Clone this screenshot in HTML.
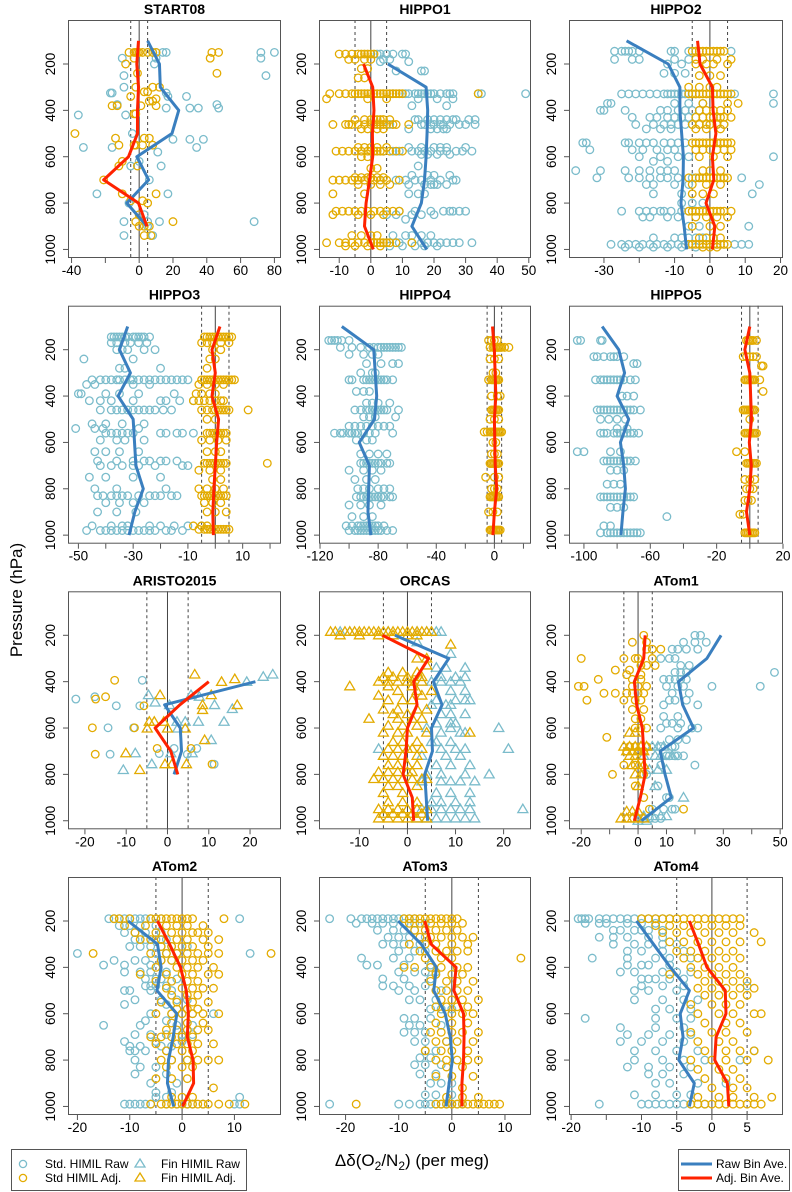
<!DOCTYPE html>
<html><head><meta charset="utf-8"><style>
html,body{margin:0;padding:0;background:#fff;}
svg{display:block;font-family:"Liberation Sans",sans-serif;}
</style></head><body>
<svg id="chart" width="792" height="1192" viewBox="0 0 792 1192" xmlns="http://www.w3.org/2000/svg">
<text x="0" y="0" transform="translate(22,600) rotate(-90)" text-anchor="middle" font-size="17">Pressure (hPa)</text>
<text x="412" y="1166" text-anchor="middle" font-size="17">Δδ(O<tspan font-size="12" dy="4">2</tspan><tspan dy="-4">/N</tspan><tspan font-size="12" dy="4">2</tspan><tspan dy="-4">) (per meg)</tspan></text>
<g>
<rect x="11.5" y="1149.5" width="235" height="41" fill="#fff" stroke="#555"/>
<circle cx="23" cy="1164" r="3.6" fill="none" stroke="#7bbccb" stroke-width="1.3"/>
<text x="45" y="1168" font-size="12">Std. HIMIL Raw</text>
<circle cx="23" cy="1178" r="3.6" fill="none" stroke="#e3ab00" stroke-width="1.3"/>
<text x="45" y="1182" font-size="12">Std HIMIL Adj.</text>
<polygon points="140,1159 145,1167 135,1167" fill="none" stroke="#7bbccb" stroke-width="1.3"/>
<text x="161" y="1168" font-size="12">Fin HIMIL Raw</text>
<polygon points="140,1173 145,1181 135,1181" fill="none" stroke="#e3ab00" stroke-width="1.3"/>
<text x="161" y="1182" font-size="12">Fin HIMIL Adj.</text>
</g>
<g>
<rect x="678.5" y="1149.5" width="111" height="41" fill="#fff" stroke="#555"/>
<line x1="681" y1="1164" x2="712" y2="1164" stroke="#3a7fbf" stroke-width="3"/>
<text x="716" y="1168" font-size="12">Raw Bin Ave.</text>
<line x1="681" y1="1178" x2="712" y2="1178" stroke="#ff2200" stroke-width="3"/>
<text x="716" y="1182" font-size="12">Adj. Bin Ave.</text>
</g>
</svg>
<script>
// ---------- data ----------
const BINS = [100,200,300,400,500,600,700,800,900,1000];
const BINS_R2 = [200,300,400,500,600,700,800,900,1000];
const BINS_AR = [400,500,600,700,800];

const START08_RAW = [[150,[5,8,10,14,16,72,80]],[175,[-10,10,72]],[200,[9]],[250,[-9,75]],[300,[-9]],[325,[-17,-16,16]],[340,[28,17]],[375,[-13,46]],[390,[30,35,16,47]],[420,[-36,-8]],[500,[-4]],[525,[20,30,38]],[560,[-16,-33,34]],[580,[11]],[620,[0]],[640,[13,-5]],[700,[6]],[760,[-25,17]],[800,[-6]],[850,[3]],[880,[-9,5,12,68]],[900,[5]],[940,[-9,8]]];
const START08_ADJ = [[150,[-6,-3,-2,-1,0,2,5,8,10,43,47]],[175,[42,-3]],[200,[-8]],[240,[-1,46]],[300,[-2,8,12]],[320,[3,5]],[340,[-5]],[350,[10]],[360,[6,8]],[380,[-16,-13,1,10]],[415,[-3,-2]],[500,[-38]],[520,[-14,3,6]],[550,[-12,-3,-2,2,8]],[620,[-10]],[640,[-12,-1]],[700,[-21]],[760,[-10,10]],[790,[-5,2]],[800,[5]],[850,[0]],[880,[-2,20]],[900,[0,3,6]],[940,[3,7]]];
const START08_BINS = [100,200,300,400,500,600,700,800,900];
const START08_RAWAVE = [5,12,12.5,23.4,19.4,-1.4,5.6,-7.3,4.6];
const START08_ADJAVE = [-0.4,-1.4,-0.4,-1,-1,-6.3,-21,-0.4,4.6];

const HIPPO1_RAW = [[157,[2,3,5,7,10,11]],[180,[4,6]],[190,[3,12]],[230,[8,16,17]],[328,[7,9,11,12,14,15,16,17,18,19,20,22,24,25,26,34,35,49]],[350,[15,21,26]],[380,[13,24]],[440,[14,15,18,20,22,24,26,27,31,33]],[461,[6,16,17,19,20,22,23,25,28,30,33]],[480,[12,19,21,23,24]],[560,[12,16,20,22,24,30]],[576,[4,7,9,13,15,17,19,22,24,27,29,32]],[590,[16,18,21,25]],[640,[15]],[680,[13,18,20,25]],[701,[3,8,11,14,16,19,22,26,27]],[720,[12,17,19,20,21,24]],[760,[12,15,17]],[835,[9,14,19,23,25,26,28,30]],[850,[5,8,13,16,20]],[870,[11]],[940,[7,11,13,16,19]],[971,[5,9,13,16,18,20,22,24,26,28,32]],[985,[6,10,14,17,21]]];
const HIPPO1_ADJ = [[157,[-10,-8,-6,-4,-3,-2,-1,0,1]],[180,[-7,-5,-2,0]],[220,[-3,-1]],[260,[-2,-4]],[328,[-13,-10,-8,-6,-5,-4,-3,-2,-1,0,1,2,3,4,5,6,7,8,9,10,34]],[350,[-14,-1,5]],[440,[-5,-2,0,1,2,3,4,6]],[461,[-12,-8,-7,-6,-4,-2,0,1,2,3,4,5,7,8,12]],[480,[-3,-1,2,4]],[560,[-4,-2,0,2,5]],[576,[-11,-9,-7,-5,-3,-1,0,1,2,3,4,6,8,10]],[600,[-3,-1]],[650,[0,2]],[690,[-5,-3,-1,0,2,4]],[701,[-12,-10,-8,-6,-4,-2,1,3,5,9]],[720,[-4,0,3,6]],[760,[-12,-2]],[835,[-11,-9,-7,-5,-3,-1,1,3,5,7,9]],[850,[-12,-4,0,4]],[940,[-6,-3,0,2]],[971,[-14,-10,-8,-6,-4,-2,0,1,2,3,4,5,6,8,13]],[985,[-8,-5,-1,3]]];
const HIPPO1_RAWAVE = [5.4,17.5,18,17.8,17.5,17,16,13,17.7];
const HIPPO1_ADJAVE = [-2.3,0.6,1,0.5,0.6,-0.4,-1.5,-2,0.8];

const HIPPO2_RAW = [[145,[-27,-25,-24,-23,-22,-20,-11,-10,-6,-4,6]],[180,[-27,-22,-20,-10,-6]],[200,[-12,-8]],[240,[-13,-10,-7]],[329,[-25,-23,-21,-19,-17,-15,-13,-12,-11,-10,-9,-8,-7,-6,-5,-4,7,18]],[370,[-29,-28,-10,-6,-2,18]],[400,[-31,-30,-24,-14,-12,-9,-7,-5,-3]],[430,[-22,-17,-15,-12,-10,-8,-6]],[461,[-21,-16,-13,-11,-9,-7,-5,-3,0,2,4]],[480,[-18,-14,-11]],[540,[-36,-35,-24,-23,-20,-18,-16,-13,-11,-9,-7]],[570,[-34,-22,-19,-15,-12,-10]],[600,[-20,-14,-9,-6,18]],[620,[-16,-12]],[660,[-38,-31,-24,-20,-17,-14,-12,-10]],[691,[-32,-23,-20,-17,-14,-12,-9,-5,-3,4,9]],[720,[-18,-16,-10,-6,14]],[760,[-16,-8,12]],[800,[-8,-5,-2]],[835,[-25,-20,-18,-16,-14,-13,-11,-8,-6,-4]],[860,[-19,-17,-12,-9]],[900,[-6,-3,11]],[950,[-16,-10,-8,-6,-4,-2,1]],[978,[-28,-25,-23,-21,-19,-17,-15,-13,-11,-9,-7,-5,-3,-1,2,4,7,9,11]],[990,[-24,-20,-16,-12,-8,-4]]];
const HIPPO2_ADJ = [[145,[-5,-4,-3,-2,-1,0,1,2,3,4]],[180,[-4,-2,2,6]],[200,[-4,-1,1,5]],[250,[-3,0,3]],[300,[-6,-3,0,2]],[329,[-6,-5,-4,-3,-2,-1,0,1,2,3,4,5,6]],[370,[-2,5,8]],[400,[-3,-1,1,3,5]],[430,[-4,-2,0,1,2,3,4,6]],[461,[-5,-3,-1,0,2,4]],[480,[-4,-1,3]],[540,[-5,-4,-3,-2,-1,0,1,2,3,4,5,6]],[570,[-4,-2,0,2,4,6]],[600,[-3,1,5]],[660,[-2,0,3]],[691,[-6,-4,-3,-2,-1,0,1,2,3,4,5]],[720,[-5,-1,3]],[760,[-5,-2,1]],[835,[-6,-5,-4,-3,-2,-1,0,1,2,3,4,6]],[860,[-4,-1,2,5]],[900,[-5,0,3]],[950,[-3,-1,1,3]],[978,[-6,-5,-4,-3,-2,-1,0,1,2,3,4,5]],[990,[-2,0,2]]];
const HIPPO2_RAWAVE = [-23.6,-11.8,-8.5,-8.5,-8,-7.5,-7.6,-8.2,-7.3,-6.6];
const HIPPO2_ADJAVE = [-3.5,-2.8,0.7,0.9,1.7,0.7,1.1,-1.1,1.4,0.7];

const HIPPO3_RAW = [[145,[-38,-37,-36,-35,-34,-33,-32,-30,-29,-28,-27,-26,-24]],[170,[-38,-36,-33,-31,-28,-25]],[200,[-36,-34,-32,-26,-22]],[240,[-48,-30]],[280,[-35,-33,-20]],[330,[-45,-42,-40,-38,-36,-35,-33,-31,-30,-28,-26,-24,-22,-20,-18,-16,-14,-12,-10]],[350,[-47,-44,-30,-24]],[390,[-50,-49,-40,-35,-28,-15]],[420,[-46,-42,-38,-30,-20,-18,-13,-8]],[460,[-42,-38,-36,-34,-32,-30,-28,-26,-24,-22,-19,-16]],[520,[-45,-40,-34,-26]],[540,[-51,-44,-41,-28]],[560,[-40,-38,-36,-34,-32,-30,-20,-18,-14,-12,-8]],[590,[-42,-36,-33,-26]],[640,[-44,-40,-35,-28]],[680,[-43,-36,-30,-26,-24,-20,-18,-14]],[700,[-42,-38,-34,-30,-28,-22,-12,-10]],[750,[-46,-40,-30,-20]],[800,[-44,-36,-18]],[830,[-43,-41,-38,-36,-34,-32,-28,-24,-22,-20,-16,-14]],[860,[-40,-35,-30,-26]],[900,[-43,-36,-29]],[960,[-45,-38,-34,-32,-24,-20,-15,-10,-5]],[980,[-47,-42,-40,-38,-36,-34,-32,-30,-28,-26,-24,-22,-18,-16,-12]]];
const HIPPO3_ADJ = [[145,[-4,-3,-2,-1,0,1,2,3,4,5,6]],[170,[-5,-3,-1,2,5]],[200,[-1,2]],[240,[-2,0]],[280,[-3]],[330,[-5,-4,-3,-2,-1,0,1,2,3,4,5,6,7]],[350,[-6,-3,0,3]],[390,[-7,-5,-2,0]],[420,[-8,-6,-4,-2,0,2,3]],[460,[-5,-3,-1,0,1,2,3,4,5,12]],[500,[-3,0]],[560,[-3,-2,-1,0,1,2,3,4]],[590,[-5,-2,1,4]],[640,[-3,0,2]],[690,[-4,-3,-2,-1,0,1,2,3,4,19]],[720,[-6,-2,2]],[760,[-1,2]],[800,[-6,-3,0,3]],[830,[-5,-4,-3,-2,-1,0,1,2,3,4]],[860,[-4,-1,2]],[900,[-3,0,4]],[960,[-8,-5,-3]],[975,[-6,-4,-3,-2,-1,0,1,2,3,4,5]]];
const HIPPO3_RAWAVE = [-32,-35,-31,-35.5,-30,-29.5,-29,-26.3,-29.4,-31.5];
const HIPPO3_ADJAVE = [1.7,-1.2,0,-1.2,1.2,0.5,0,-0.5,-0.9,-0.7];

const HIPPO4_RAW = [[160,[-114,-112,-110,-108,-105,-100]],[190,[-106,-98,-92,-86,-83,-80,-78,-76,-74,-72,-70,-68,-66,-64]],[220,[-100,-90,-84,-80]],[260,[-88,-78,-70,-66]],[300,[-92,-84,-82]],[330,[-100,-98,-90,-88,-86,-84,-82,-80,-78,-76,-74,-70]],[380,[-95,-90,-86]],[430,[-88,-84,-80,-72]],[460,[-96,-92,-88,-86,-84,-82,-80,-78,-76,-74,-66]],[490,[-90,-86,-82,-68]],[530,[-100,-96,-92,-88,-84,-80,-76,-72]],[560,[-110,-106,-104,-100,-98,-96,-94,-90,-86,-82,-70]],[590,[-95,-88,-84]],[650,[-92,-86,-80,-74]],[690,[-92,-90,-88,-86,-84,-82,-80,-78,-74,-72]],[720,[-100,-90,-84,-78]],[760,[-96,-88,-82]],[800,[-94,-90,-86,-80,-76,-72]],[835,[-95,-92,-90,-88,-86,-84,-82,-80,-78,-76,-72,-70]],[870,[-100,-92,-86,-78]],[920,[-98,-90,-84]],[960,[-102,-98,-94,-92,-90,-88,-86,-84,-82,-80,-76]],[980,[-100,-96,-94,-92,-90,-88,-86,-84,-82,-80,-78,-74,-70]]];
const HIPPO4_ADJ = [[160,[-4,-2,0,2]],[190,[-3,-1,0,1,2,3,4,5,7,10]],[240,[-3,0,3]],[300,[-1,1]],[330,[-4,-2,-1,0,1,2,3]],[400,[-2,2,4]],[460,[-2,-1,0,1,2,3]],[500,[-3,0,3]],[555,[-7,-5,-3,-2,-1,0,1,2,3,4,5]],[600,[-1,1]],[650,[-2,0,2]],[691,[-3,-2,-1,0,1,2,3]],[750,[-6,0,3]],[800,[-2,0,2]],[835,[-3,-2,-1,0,1,2,3]],[900,[-4,-1,2]],[978,[-3,-2,-1,0,1,2,3,4]]];
const HIPPO4_RAWAVE = [-105,-83,-82,-81,-82.5,-93,-86,-86.5,-87,-85];
const HIPPO4_ADJAVE = [-1.3,0,0.5,1,0,0.3,0.6,1.6,0,-1];

const HIPPO5_RAW = [[160,[-104,-102,-90,-89]],[230,[-94,-92,-88,-84,-82,-80,-76]],[260,[-70,-68]],[330,[-93,-90,-88,-86,-84,-82,-80,-78,-76,-72,-69]],[400,[-77,-74,-70]],[460,[-92,-90,-88,-86,-84,-82,-80,-78,-76,-74,-72,-70,-66]],[500,[-90,-85,-80,-75]],[540,[-80,-74]],[560,[-90,-88,-86,-82,-80,-78,-76,-74,-72,-70,-67]],[640,[-104,-100,-84,-78]],[680,[-88,-86,-84,-82,-80,-78,-76,-74,-72,-69]],[720,[-84,-80,-76]],[780,[-86,-82,-78]],[835,[-90,-88,-86,-84,-82,-80,-78,-76,-74,-72,-70]],[880,[-84,-80,-76]],[920,[-50]],[960,[-88,-84]],[990,[-90,-86,-84,-82,-80,-78,-76,-74,-72,-70,-68,-66]]];
const HIPPO5_ADJ = [[160,[-2,-1,0,1,2,4]],[230,[-4,-2,0,2,4]],[270,[8,7]],[330,[-3,-2,-1,0,1,2,3,6]],[380,[8]],[460,[-4,-3,-2,-1,0,1,2,3]],[500,[0]],[560,[-3,-2,-1,0,1,2,3,4]],[640,[-8,-3]],[690,[-2,-1,0,1,2,3,4]],[760,[-3,0,3]],[800,[-2,0,2]],[850,[-3,-1,1]],[910,[-6,-4]],[990,[-3,-2,-1,0,1,2,3]]];
const HIPPO5_RAWAVE = [-89,-79,-75.5,-80,-73,-78,-76,-75,-76.5,-77.7];
const HIPPO5_ADJAVE = [0,-3,0,0.5,1,-0.3,0.9,0,-2,0];

const ARISTO_RAW = [[475,[-22.2]],[465,[-17.6]],[504,[-12.4,-6.7]],[394,[-6.1]],[599,[-14.4,-8.2]],[713,[-13.9,4.8]],[688,[1.6,7.1]],[756,[11.3]],[710,[-2]]];
const ARISTO_ADJ = [[394,[-12.8]],[475,[-17.4]],[465,[-15]],[504,[-5.7]],[599,[-18.2,-8]],[713,[-17.5]],[688,[-2.5,5.7]],[756,[10.8]]];
const ARISTO_FINRAW = [[458,[-4.6,5.7]],[490,[-3]],[501,[0.5,11.4]],[465,[7.7]],[518,[15.7]],[379,[23.2]],[369,[25.5]],[401,[19.2]],[573,[2.3,4.3,7.5,13.7]],[602,[2.5]],[652,[10.6]],[709,[-7.8,6,0.8]],[756,[-3.8]],[781,[-10.7]]];
const ARISTO_FINADJ = [[458,[-1.8,10.6]],[573,[-4.4,-3.2,-0.9]],[602,[-4.9,0,4.3]],[369,[6.6]],[401,[13.1]],[389,[16.3]],[501,[8.5,16.9]],[522,[8.5]],[652,[9]],[709,[-10.1]],[781,[-6.7]],[756,[-0.6,1.1,4.6]]];
const ARISTO_RAWAVE = [21.3,-0.7,3.1,3.4,1.6];
const ARISTO_ADJAVE = [10,3,-3,0.8,2.5];

const ORCAS_FINADJ = [[185,[-16,-15,-13,-12,-11,-10,-9,-8,-7,-6,-5,-4,-3,-2,-1,0,1,2,3,4,5]],[200,[-14,-10,-6,-3,0,2]],[240,[9]],[300,[2,4]],[330,[4]],[360,[-4,-1,2]],[380,[-5,-3,0,3]],[400,[-6,-4,-2,0,1,3]],[420,[-12,-4,1]],[440,[-2,2,5]],[460,[-6,3]],[480,[-4,-1,1]],[520,[-5,-2,2,4]],[540,[-3,0]],[560,[-8,-2,1,3]],[590,[-4,-1,2]],[620,[-5,-2,0,4,13]],[660,[-3,-1,2]],[690,[-4,-2,0,1,3]],[720,[-5,-3,-1,2]],[760,[-4,-2,0,2]],[790,[-6,-4,-2,0,1]],[820,[-7,-5,-3,-1,1,3,4]],[850,[-4,-2,2]],[880,[-5,-1]],[920,[-4,-1,2]],[950,[-6,-4,-2,0,2,4]],[970,[-5,-3,-1,1,3]],[990,[-6,-4,-2,0,2,4]]];
const ORCAS_FINRAW = [[185,[-14,-12,-4,2,4,5,6,7]],[230,[2]],[280,[9]],[340,[6,8,12]],[380,[7,10,12]],[400,[3,5,7,9,11]],[440,[9,12]],[480,[6,10,12,13]],[500,[5,8,9]],[540,[7,9,12]],[580,[6,9,10]],[600,[4,9,19]],[620,[7,11,12]],[660,[5,6,9]],[690,[-6,7,10,12,21]],[720,[3,8,11]],[760,[6,9,13]],[800,[4,7,12,17]],[830,[3,7,9,11,14]],[880,[6,9,13]],[920,[5,7,10,13]],[950,[3,5,7,9,11,13,24]],[990,[2,4,6,8,10,12,14]]];
const ORCAS_RAWAVE = [-2.6,8.6,5.4,7.2,5,5.2,3.6,3.9,4.2];
const ORCAS_ADJAVE = [-5.2,4.4,1.3,2,0,-0.3,-0.9,1,1.3];

const ATOM1_RAW = [[200,[20,22]],[230,[16,20,24]],[260,[12,14,17,21]],[300,[8,11,13]],[330,[15,18]],[360,[13,15,17,48]],[390,[9,11,13,15,17]],[420,[10,14,16,26,43]],[450,[12,18]],[480,[11,13,17]],[500,[9,21]],[550,[9,14]],[580,[10,12,15]],[600,[8,14,19,21]],[650,[11,14,17]],[680,[8,12,13]],[720,[10,11,13,14,16]],[760,[20,8]],[800,[3]],[850,[7]],[900,[10,11]],[950,[5,9,12,13]],[990,[2,4,6,8]]];
const ATOM1_ADJ = [[200,[2]],[230,[-2,3]],[260,[3,5,8]],[300,[-20,-5,0,-1,5]],[330,[1,3,6]],[350,[-3,-8]],[370,[-4,1]],[390,[-14,-2,1]],[420,[-21,-19,-2,0,3]],[450,[-12,-8,-4,-2,0,2]],[480,[-18,-5,-1,1]],[520,[-2,2]],[560,[-1,1]],[600,[-1,1,3]],[640,[-11]],[680,[-3,-1,1,3]],[700,[-4,0,2]],[760,[-5,-1]],[800,[-9,2]],[850,[-1]],[900,[2]],[950,[4,16]]];
const ATOM1_FINRAW = [[680,[3,5,7,9]],[720,[2,6,8,12]],[780,[4,7,10]],[850,[6]],[900,[16]],[980,[2,5,8,10]],[1000,[0,3]]];
const ATOM1_FINADJ = [[620,[-3,-1]],[680,[-5,-3,-1,1,3]],[700,[-4,-2,0,2]],[720,[-3,-1,1]],[760,[-2,0,2]],[800,[-1,1]],[850,[0]],[960,[-4,-2,0]],[990,[-6,-4,-2,0,2]]];
const ATOM1_RAWAVE = [29.2,24.2,14.2,15.7,19.5,7.8,9.5,11.7,1.2];
const ATOM1_ADJAVE = [2.5,2,-1.3,-0.5,1.5,2,2.5,0.8,-1.3];

const ATOM2_RAW = [[190,[-14,-13,-12,-11,-10,-9,-8,-7,-6,-4,11]],[220,[-12,-10,-8,-5]],[250,[-11,-9,-7,-4]],[280,[-9,-7,-5,-3]],[310,[-10,-8,-6,-4,-2,1]],[340,[-20,-5,-3,-1,13]],[370,[-13,-9,-7,-4,-2]],[390,[-15,-11,-6]],[420,[-11,-8,-6,-3]],[450,[-7,-5,-4,-1]],[480,[-7,-6,-5,-3]],[500,[-11,-10,-6,-2]],[540,[-9,-4,-1,1]],[560,[-11,-3]],[600,[-6,-2,0,2,6]],[630,[-7,-3]],[650,[-15,-8,-1,2]],[690,[-9,-6,-3,0,2]],[720,[-11,-5,0]],[740,[-10,-8,-4,-2]],[760,[-10,-9,-7,-3]],[800,[-9,-2,1]],[830,[-8,-5]],[860,[-9,-3]],[900,[-6,-1]],[940,[-5,-2]],[960,[-5,-3,11]],[990,[-11,-10,-9,-8,-7,-6,-3,-1,1,2,4,10,11]]];
const ATOM2_ADJ = [[190,[-13,-12,-10,-6,-5,-4,-3,-2,-1,0,1,2,8]],[220,[-11,-7,-3,-1,1,4]],[250,[-9,-5,-2,0,2,3,5]],[280,[-8,-6,-4,-1,1,4,7]],[310,[-4,-2,0,2,5]],[340,[-17,-6,-3,-1,1,3,5,7,17]],[370,[-4,-2,0,2,4]],[400,[-5,-1,1,3,6]],[430,[-8,-3,0,2,5,7]],[460,[-5,-2,1,3]],[490,[-3,0,2,4,6]],[520,[-2,1,3]],[550,[-4,-1,2,5]],[580,[-1,1,3]],[600,[-5,-2,0,2,4,7]],[640,[-2,1,4]],[670,[-3,-1,1,3,5]],[700,[-6,-4,-2,0,2]],[730,[-5,-1,1,3,6]],[760,[-3,0,2]],[800,[-4,-2,1,3,5,7]],[830,[-3,0,2]],[880,[-5,-2,1]],[920,[6]],[960,[-2,0,2]],[990,[-6,-4,-3,-2,-1,0,1,2,3,4,5,7,9,12]]];
const ATOM2_RAWAVE = [-10.3,-4.7,-4,-4.8,-1,-1.7,-2.6,-2.8,-1.6];
const ATOM2_ADJAVE = [-4.7,-2.4,-0.3,0.8,1.2,1,2.1,2.2,0.1];

const ATOM3_RAW = [[190,[-19,-17,-16,-15,-14,-13,-12,-11,-10,-9,-8,-7,-23]],[210,[-18,-15,-13,-11,-9,-7,-5]],[240,[-14,-11,-9,-7]],[270,[-12,-10,-8,-5]],[300,[-13,-11,-9,-6]],[330,[-10,-7,-5]],[360,[-17,-11,-8]],[390,[-16,-14,-9,-4]],[420,[-10,-7,-5,-3]],[450,[-13,-9,-4]],[480,[-13,-11,-8,-5]],[500,[-10,-7,-2]],[540,[-8,-6,-3]],[580,[-4,-2,0]],[620,[-9,-7,-4]],[650,[-8,-6,-2]],[680,[-9,-7,-5]],[720,[-7,-5,-1]],[760,[-5,-3]],[790,[-6,-4]],[820,[-7,-5,-2]],[860,[-6,-3]],[900,[-4,-2,0]],[950,[-5,-3,0]],[990,[-23,-10,-8,-6,-5,-4,-3,-2,-1,0,1,2]]];
const ATOM3_ADJ = [[190,[-9,-8,-7,-6,-5,-4,-3,-2,-1,0,1]],[210,[-8,-6,-4,-2,0,2]],[240,[-7,-5,-3,-1,1]],[270,[-6,-4,-2,0,2,4]],[300,[-8,-5,-3,0,3]],[330,[-6,-3,-1,1,3]],[360,[-5,-2,0,13]],[400,[-9,-7,-4,-2,1,3]],[430,[-3,0,2]],[460,[-4,-1,1,4]],[500,[-3,-1,1,3]],[540,[-2,0,2,5]],[570,[-3,-1,1,3]],[600,[-2,0,2,4]],[640,[-3,0,3]],[680,[-4,-2,0,2,5]],[720,[-3,-1,1,4]],[760,[-5,-2,0,3]],[800,[-3,-1,1,3,5]],[830,[-1,2]],[870,[-3,0,4]],[920,[2]],[960,[-1,2,5]],[990,[-18,-3,-2,-1,0,1,2,3,4,5,6,7,8,9]]];
const ATOM3_RAWAVE = [-10.1,-5.75,-2.9,-3.4,-1.25,-0.3,0.1,-0.5,-1.1];
const ATOM3_ADJAVE = [-5.1,-3.9,0.8,0.4,2.2,2.3,2.2,1.9,1.9];

const ATOM4_RAW = [[190,[-19,-18.5,-18,-17.5,-16,-15,-14,-13,-12,-11,-10,-9,-8,-7,-6]],[210,[-18,-16,-15,-12,-10,-8]],[240,[-14,-13,-11,-10,-9,-7]],[270,[-16,-14,-12,-9,-7]],[300,[-14,-11,-9,-7,-5]],[330,[-12,-10,-7,-4]],[360,[-17,-12,-8,-6,-3]],[390,[-12,-10,-9,-6]],[420,[-13,-11,-7,-5,-3]],[450,[-10,-9,-8,-6,-4]],[480,[-10,-7,-4,5]],[500,[-11,-9,-5]],[540,[-11,-7,-4,-2]],[580,[-8,-6,-3]],[620,[-18,-8,-5,-3]],[660,[-13,-8,-4]],[690,[-12,-9,-6,-3]],[720,[-13,-10,-7,-4]],[760,[-11,-8,-5,-2,6]],[800,[-11,-7,-4,-1,4]],[830,[-12,-9,-6,-3]],[860,[-9,-7,-4]],[900,[-8,-6,-2,2]],[950,[-11,-8,-5,-3]],[990,[-16,-10,-9,-8,-7,-6,-5,-4,-3,-2,-1]]];
const ATOM4_ADJ = [[190,[-10,-9,-8,-7,-6,-5,-4,-3,-2,-1,0,1,2,3,4]],[220,[-8,-6,-4,-2,0,2,4]],[250,[-7,-5,-3,-1,1,3,6]],[290,[-6,-4,-2,0,2,4,7]],[330,[-5,-3,-1,1,3]],[360,[-4,-2,0,2,4]],[400,[-3,-1,1,3]],[430,[-6,-2,0,2,4]],[460,[-1,1,3,5]],[490,[-2,0,2,4,6]],[520,[-1,1,3,5]],[560,[-3,0,2,4]],[600,[-2,1,3,6,7]],[640,[-1,2,4]],[680,[-3,0,2,5]],[720,[-2,1,3]],[760,[-1,2,4,6]],[800,[-3,0,2,5,8]],[840,[-2,1,3]],[880,[-1,2,4]],[920,[0,3,5]],[960,[-2,1,3,6,8.5]],[990,[-3,-2,-1,0,1,2,3,4,5,6,7]]];
const ATOM4_RAWAVE = [-10.7,-8.3,-5.9,-3.2,-4.5,-4.1,-4.7,-2.5,-3.2];
const ATOM4_ADJAVE = [-3.2,-1.9,-0.7,1.9,2,0.6,0.4,2.2,2.4];

// ---------- layout ----------
const ROW_TOPS = [20, 305.7, 591.3, 877];
const COL_LEFTS = [68, 319, 569];
const COL_WIDTHS = [213, 212, 214];
const PH = 238;
const C_RAW = '#7bbccb', C_ADJ = '#e3ab00', C_RAWL = '#3a7fbf', C_ADJL = '#ff2200';

const PANELS = [
 {key:'start08',title:'START08',r:0,c:0,xmin:-42.1,xmax:83.9,ticks:[-40,-20,0,20,40,60,80],labels:[-40,0,20,40,60,80],raw:START08_RAW,adj:START08_ADJ,bins:START08_BINS,rawAve:START08_RAWAVE,adjAve:START08_ADJAVE},
 {key:'hippo1',title:'HIPPO1',r:0,c:1,xmin:-16.4,xmax:50.7,ticks:[-10,0,10,20,30,40,50],labels:[-10,0,10,20,30,40,50],raw:HIPPO1_RAW,adj:HIPPO1_ADJ,bins:BINS_R2,rawAve:HIPPO1_RAWAVE,adjAve:HIPPO1_ADJAVE},
 {key:'hippo2',title:'HIPPO2',r:0,c:2,xmin:-39.9,xmax:20.7,ticks:[-30,-20,-10,0,10,20],labels:[-30,-10,0,10,20],raw:HIPPO2_RAW,adj:HIPPO2_ADJ,bins:BINS,rawAve:HIPPO2_RAWAVE,adjAve:HIPPO2_ADJAVE},
 {key:'hippo3',title:'HIPPO3',r:1,c:0,xmin:-53.8,xmax:24,ticks:[-50,-40,-30,-20,-10,0,10,20],labels:[-50,-30,-10,10],raw:HIPPO3_RAW,adj:HIPPO3_ADJ,bins:BINS,rawAve:HIPPO3_RAWAVE,adjAve:HIPPO3_ADJAVE},
 {key:'hippo4',title:'HIPPO4',r:1,c:1,xmin:-120.7,xmax:25.2,ticks:[-120,-100,-80,-60,-40,-20,0,20],labels:[-120,-80,-40,0],raw:HIPPO4_RAW,adj:HIPPO4_ADJ,bins:BINS,rawAve:HIPPO4_RAWAVE,adjAve:HIPPO4_ADJAVE},
 {key:'hippo5',title:'HIPPO5',r:1,c:2,xmin:-109,xmax:20,ticks:[-100,-80,-60,-40,-20,0,20],labels:[-100,-60,-20,20],raw:HIPPO5_RAW,adj:HIPPO5_ADJ,bins:BINS,rawAve:HIPPO5_RAWAVE,adjAve:HIPPO5_ADJAVE},
 {key:'aristo2015',title:'ARISTO2015',r:2,c:0,xmin:-24.1,xmax:27.5,ticks:[-20,-10,0,10,20],labels:[-20,-10,0,10,20],raw:ARISTO_RAW,adj:ARISTO_ADJ,finRaw:ARISTO_FINRAW,finAdj:ARISTO_FINADJ,bins:BINS_AR,rawAve:ARISTO_RAWAVE,adjAve:ARISTO_ADJAVE},
 {key:'orcas',title:'ORCAS',r:2,c:1,xmin:-18.4,xmax:25.7,ticks:[-10,0,10,20],labels:[-10,0,10,20],raw:[],adj:[],finRaw:ORCAS_FINRAW,finAdj:ORCAS_FINADJ,bins:BINS_R2,rawAve:ORCAS_RAWAVE,adjAve:ORCAS_ADJAVE},
 {key:'atom1',title:'ATom1',r:2,c:2,xmin:-24.3,xmax:51,ticks:[-20,-10,0,10,20,30,40,50],labels:[-20,0,10,30,50],raw:ATOM1_RAW,adj:ATOM1_ADJ,finRaw:ATOM1_FINRAW,finAdj:ATOM1_FINADJ,bins:BINS_R2,rawAve:ATOM1_RAWAVE,adjAve:ATOM1_ADJAVE},
 {key:'atom2',title:'ATom2',r:3,c:0,xmin:-21.8,xmax:18.9,ticks:[-20,-10,0,10],labels:[-20,-10,0,10],raw:ATOM2_RAW,adj:ATOM2_ADJ,bins:BINS_R2,rawAve:ATOM2_RAWAVE,adjAve:ATOM2_ADJAVE},
 {key:'atom3',title:'ATom3',r:3,c:1,xmin:-25,xmax:14.9,ticks:[-20,-10,0,10],labels:[-20,-10,0,10],raw:ATOM3_RAW,adj:ATOM3_ADJ,bins:BINS_R2,rawAve:ATOM3_RAWAVE,adjAve:ATOM3_ADJAVE},
 {key:'atom4',title:'ATom4',r:3,c:2,xmin:-20.3,xmax:10.1,ticks:[-20,-15,-10,-5,0,5],labels:[-20,-10,-5,0,5],raw:ATOM4_RAW,adj:ATOM4_ADJ,bins:BINS_R2,rawAve:ATOM4_RAWAVE,adjAve:ATOM4_ADJAVE}
];
const Y_TICKS = [200,400,600,800,1000];

const NS = 'http://www.w3.org/2000/svg';
const svg = document.getElementById('chart');
function mk(parent, tag, attrs, text){
  const el = document.createElementNS(NS, tag);
  for (const k in attrs) el.setAttribute(k, attrs[k]);
  if (text !== undefined) el.textContent = text;
  parent.appendChild(el);
  return el;
}

PANELS.forEach(P => {
  const L = COL_LEFTS[P.c], W = COL_WIDTHS[P.c], T = ROW_TOPS[P.r];
  const xs = v => L + (v - P.xmin) / (P.xmax - P.xmin) * W;
  const ys = p => T + 44 + (p - 200) * 0.2318;
  const g = mk(svg, 'g', {});
  
  

  const title = mk(g, 'text', {x: L + W/2, y: T - 6, 'text-anchor':'middle', 'font-size':14, 'font-weight':'bold'}, P.title);
  
  

  [-5, 5].forEach(v => {
    const dl = mk(g, 'line', {x1: xs(v), x2: xs(v), y1: T, y2: T + PH, stroke:'#444', 'stroke-width':1, 'stroke-dasharray':'3,3'});
    
    
  });
  const zl = mk(g, 'line', {x1: xs(0), x2: xs(0), y1: T, y2: T + PH, stroke:'#444', 'stroke-width':1});
  
  

  const circles = (data, color, name) => data.forEach(([p, vals]) => vals.forEach(v => {
    const c = mk(g, 'circle', {cx: xs(v), cy: ys(p), r: 3.8, fill:'none', stroke: color, 'stroke-width':1.3});
    
    
  }));
  const tris = (data, color, name) => data.forEach(([p, vals]) => vals.forEach(v => {
    const x = xs(v), y = ys(p);
    const t = mk(g, 'polygon', {points: `${x},${y-5} ${x+5},${y+3.5} ${x-5},${y+3.5}`, fill:'none', stroke: color, 'stroke-width':1.3});
    
    
  }));
  circles(P.raw, C_RAW, 'std-raw-point');
  if (P.finRaw) tris(P.finRaw, C_RAW, 'fin-raw-point');
  circles(P.adj, C_ADJ, 'std-adj-point');
  if (P.finAdj) tris(P.finAdj, C_ADJ, 'fin-adj-point');

  const rl = mk(g, 'polyline', {points: P.bins.map((p,i) => xs(P.rawAve[i]) + ',' + ys(p)).join(' '), fill:'none', stroke:C_RAWL, 'stroke-width':3, 'stroke-linejoin':'round'});
  
  
  const al = mk(g, 'polyline', {points: P.bins.map((p,i) => xs(P.adjAve[i]) + ',' + ys(p)).join(' '), fill:'none', stroke:C_ADJL, 'stroke-width':3, 'stroke-linejoin':'round'});
  
  

  const fr = mk(g, 'rect', {x: L + 0.5, y: T + 0.5, width: W - 1, height: PH - 1, fill:'none', stroke:'#555', 'stroke-width':1});
  
  

  P.ticks.forEach(v => {
    const x = xs(v);
    const tk = mk(g, 'line', {x1:x, x2:x, y1:T+PH, y2:T+PH+5, stroke:'#555', 'stroke-width':1});
    
    
    if (P.labels.includes(v)) {
      const lb = mk(g, 'text', {x:x, y:T+PH+17, 'text-anchor':'middle', 'font-size':13.5}, String(v));
      
      
    }
  });
  Y_TICKS.forEach(p => {
    const y = ys(p);
    const tk = mk(g, 'line', {x1:L-5, x2:L, y1:y, y2:y, stroke:'#555', 'stroke-width':1});
    
    
    const lb = mk(g, 'text', {x:0, y:0, transform:`translate(${L-13},${y}) rotate(-90)`, 'text-anchor':'middle', 'font-size':13.5}, String(p));
    
    
  });
});
</script>
</body></html>
